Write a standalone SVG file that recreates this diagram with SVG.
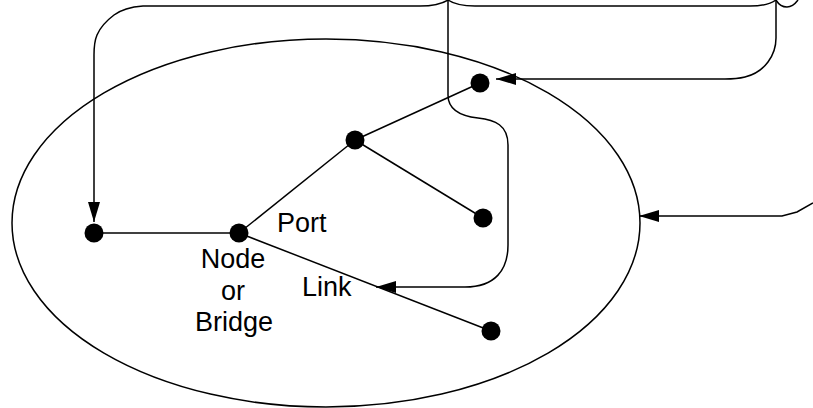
<svg xmlns="http://www.w3.org/2000/svg" width="813" height="408" viewBox="0 0 813 408">
<style>
.ln{fill:none;stroke:#000;stroke-width:1.5}
.nd{fill:#000;stroke:none}
.tx{font-family:"Liberation Sans",Arial,sans-serif;font-size:27px;fill:#000}
</style>
<defs>
<marker id="ah" markerUnits="userSpaceOnUse" markerWidth="20" markerHeight="12" refX="20" refY="6" orient="auto">
<path d="M0,0 L20,6 L0,12 Z" fill="#000"/>
</marker>
</defs>
<rect width="813" height="408" fill="#fff"/>
<g id="network">
<ellipse class="ln" cx="326" cy="223" rx="314" ry="184"/>
</g>
<g id="connectors">
<path class="ln" d="M94,233 L239,233"/>
<path class="ln" d="M239,233 L355,140"/>
<path class="ln" d="M355,140 L480,83"/>
<path class="ln" d="M355,140 L483,218"/>
<path class="ln" d="M239,233 L491,331"/>
<path class="ln" marker-end="url(#ah)" d="M448,0 C440,5 430,6 420,6 L143,6 C130,7 122,9 114,15 C106,21 100,28 97,35 Q94,42 94,55 L94,222"/>
<path class="ln" d="M448,0 C455,5 465,6 475,6 L750,6 C765,6 772,3 776,0"/>
<path class="ln" d="M776,0 C779,5 782,7 787,7 C792,7 795,4 798,0"/>
<path class="ln" marker-end="url(#ah)" d="M776,0 L776,38 C776,55 765,72 745,77 Q737,79 725,79 L496,79"/>
<path class="ln" marker-end="url(#ah)" d="M448,0 L448,95 C448,110 460,116 478,118 C495,120 508,125 508,145 L508,245 C508,270 495,287 465,287 L376,287"/>
<path class="ln" marker-end="url(#ah)" d="M813,203 L797,212 L782,216 L639,216"/>
</g>
<g id="node-left"><circle class="nd" cx="94" cy="233" r="9.5"/></g>
<g id="node-bridge"><circle class="nd" cx="239" cy="233" r="9.5"/></g>
<g id="node-mid"><circle class="nd" cx="355" cy="140" r="9.5"/></g>
<g id="node-top"><circle class="nd" cx="480" cy="83" r="9.5"/></g>
<g id="node-right"><circle class="nd" cx="483" cy="218" r="9.5"/></g>
<g id="node-bottom"><circle class="nd" cx="491" cy="331" r="9.5"/></g>
<g id="labels">
<text class="tx" x="277" y="232">Port</text>
<text class="tx" x="233" y="268" text-anchor="middle">Node</text>
<text class="tx" x="233" y="300" text-anchor="middle">or</text>
<text class="tx" x="234" y="331" text-anchor="middle">Bridge</text>
<text class="tx" x="302" y="296">Link</text>
</g>
</svg>
